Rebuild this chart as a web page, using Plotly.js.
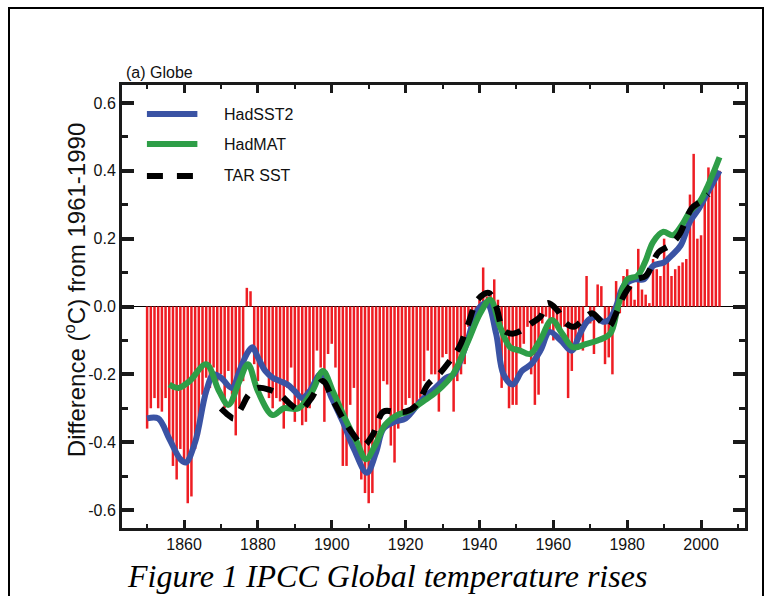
<!DOCTYPE html>
<html>
<head>
<meta charset="utf-8">
<script src="https://cdn.plot.ly/plotly-3.0.1.min.js"></script>
<style>
  html, body { margin: 0; padding: 0; background: #fff; }
  #wrap { position: relative; width: 764px; height: 596px; overflow: hidden; }
  #chart { position: absolute; left: 0; top: 0; width: 764px; height: 596px; }
  #frame { position: absolute; left: 8px; top: 7px; width: 752px; height: 620px;
           border-left: 2px solid #000; border-top: 2px solid #000; border-right: 2px solid #000;
           pointer-events: none; }
</style>
</head>
<body>
<div id="wrap">
  <div id="chart"></div>
  <div id="frame"></div>
</div>
<script>
// ---- Annual anomalies (bars), 1850-2005 ----
const years = [];
for (let y = 1850; y <= 2005; y++) years.push(y);
const annual = [
  -0.36,-0.30,-0.27,-0.30,-0.31,-0.27,-0.40,-0.47,-0.51,-0.42, // 1850s
  -0.46,-0.58,-0.56,-0.42,-0.38,-0.26,-0.21,-0.24,-0.18,-0.22, // 1860s
  -0.20,-0.30,-0.19,-0.26,-0.38,-0.30,-0.22,0.055,0.045,-0.17, // 1870s
  -0.22,-0.16,-0.19,-0.27,-0.30,-0.27,-0.28,-0.36,-0.24,-0.18, // 1880s
  -0.34,-0.30,-0.35,-0.34,-0.30,-0.27,-0.13,-0.18,-0.34,-0.14, // 1890s
  -0.11,-0.18,-0.33,-0.47,-0.47,-0.29,-0.24,-0.45,-0.51,-0.55, // 1900s
  -0.58,-0.55,-0.44,-0.41,-0.22,-0.23,-0.41,-0.46,-0.36,-0.31, // 1910s
  -0.29,-0.27,-0.30,-0.29,-0.27,-0.22,-0.13,-0.20,-0.20,-0.31, // 1920s
  -0.15,-0.14,-0.17,-0.31,-0.22,-0.20,-0.17,-0.06,-0.06,-0.04, // 1930s
  0.02,0.115,0.03,0.04,0.08,0.02,-0.24,-0.20,-0.30,-0.29,      // 1940s
  -0.29,-0.13,-0.11,-0.06,-0.20,-0.29,-0.26,-0.05,-0.03,-0.08, // 1950s
  -0.10,-0.05,-0.07,-0.06,-0.27,-0.19,-0.12,-0.10,-0.13,0.09,  // 1960s
  -0.05,-0.14,0.065,0.06,-0.17,-0.15,-0.20,0.075,-0.02,0.09,   // 1970s
  0.11,0.06,0.02,0.17,0.05,0.035,0.01,0.14,0.11,0.09,          // 1980s
  0.20,0.15,0.09,0.11,0.12,0.13,0.14,0.33,0.45,0.20,           // 1990s
  0.21,0.32,0.41,0.40,0.41,0.40                                // 2000s
];

// ---- Smoothed series ----
const sstYears = [1850,1853,1856,1859,1860.5,1863,1866,1868,1870,1873,1875,1877,1878.5,1880,1882,1884,1886,1888,1890,1892,1894,1897,1900,1903,1906,1909.5,1912,1914,1917,1920,1924,1928,1931,1933,1936.5,1939.5,1942,1944.5,1946.5,1949,1951.5,1954,1956.5,1959,1962,1965,1967,1969.5,1971.5,1973.5,1975,1977,1979,1982,1984.5,1987,1990,1992,1994.5,1997,1999.5,2002,2005];
const sstVals  = [-0.33,-0.33,-0.39,-0.45,-0.46,-0.40,-0.25,-0.20,-0.21,-0.24,-0.19,-0.14,-0.12,-0.15,-0.19,-0.21,-0.22,-0.23,-0.25,-0.27,-0.25,-0.20,-0.27,-0.34,-0.42,-0.49,-0.43,-0.36,-0.34,-0.33,-0.28,-0.24,-0.21,-0.20,-0.11,-0.01,0.01,-0.08,-0.20,-0.23,-0.19,-0.17,-0.13,-0.075,-0.10,-0.13,-0.085,-0.04,-0.03,-0.045,-0.04,0.0,0.06,0.08,0.08,0.12,0.13,0.15,0.18,0.25,0.29,0.34,0.40];

const matYears = [1856,1858.5,1861.5,1866,1869.5,1872,1875,1877.3,1880,1884,1887,1891,1894.7,1897.6,1900.3,1903.6,1906.8,1909.3,1911.7,1914.4,1917.7,1920.7,1924.7,1928.5,1932.8,1936.6,1940.2,1942.9,1945.6,1948.3,1951,1953.7,1956.4,1959.6,1962.4,1965.3,1969,1972,1975.4,1977.5,1980,1982.7,1984.8,1987,1989.7,1992.4,1994.8,1997,1999.7,2002,2005];
const matVals  = [-0.23,-0.24,-0.22,-0.17,-0.25,-0.29,-0.22,-0.17,-0.25,-0.32,-0.30,-0.30,-0.25,-0.19,-0.25,-0.33,-0.40,-0.45,-0.41,-0.35,-0.32,-0.31,-0.28,-0.25,-0.20,-0.11,-0.02,0.02,-0.06,-0.12,-0.13,-0.14,-0.10,-0.04,-0.08,-0.12,-0.11,-0.10,-0.08,0.0,0.08,0.09,0.13,0.19,0.22,0.21,0.24,0.28,0.31,0.36,0.44];

const tarYears = [1870,1872,1873.5,1875.5,1877.5,1880,1883,1886,1889,1891.5,1894.5,1897.5,1900.5,1903.5,1906,1908.5,1911,1914,1917,1920,1923,1926,1929,1932,1934.5,1937,1939.5,1942.5,1944.5,1946.5,1949,1951.5,1954,1956.5,1958.5,1961,1963.5,1965.5,1968,1970.5,1973,1975,1977,1979.5,1982.5,1985,1988.5,1991.5,1994,1997.5,2000,2002];
const tarVals  = [-0.30,-0.32,-0.33,-0.30,-0.26,-0.24,-0.245,-0.26,-0.29,-0.305,-0.27,-0.22,-0.28,-0.34,-0.38,-0.41,-0.38,-0.31,-0.31,-0.31,-0.29,-0.23,-0.20,-0.16,-0.12,-0.05,0.02,0.04,0.0,-0.07,-0.08,-0.07,-0.05,-0.03,0.01,-0.01,-0.05,-0.06,-0.04,-0.02,-0.045,-0.06,-0.02,0.04,0.08,0.09,0.16,0.18,0.21,0.29,0.31,0.33];

const seriesNames = ['HadSST2', 'HadMAT', 'TAR SST'];
const xTickVals = [1860,1880,1900,1920,1940,1960,1980,2000];
const xMinorVals = [1850,1870,1890,1910,1930,1950,1970,1990,2010];
const yTickVals = [-0.6,-0.4,-0.2,0.0,0.2,0.4,0.6];
const yTickText = ['-0.6','-0.4','-0.2','0.0','0.2','0.4','0.6'];
const yMinorVals = [-0.5,-0.3,-0.1,0.1,0.3,0.5];

const BLUE = '#3a53a4', GREEN = '#2e9e47', RED = '#ee1d23', BLACK = '#000000';
const FONT = 'Liberation Sans, Arial, sans-serif';

const traces = [
  { type: 'bar', x: years, y: annual, marker: { color: RED, line: { width: 0 } },
    hoverinfo: 'x+y', showlegend: false },
  { type: 'scatter', mode: 'lines', x: sstYears, y: sstVals, name: seriesNames[0],
    line: { color: BLUE, width: 6, shape: 'spline', smoothing: 1 }, showlegend: false },
  { type: 'scatter', mode: 'lines', x: matYears, y: matVals, name: seriesNames[1],
    line: { color: GREEN, width: 6, shape: 'spline', smoothing: 1 }, showlegend: false },
  { type: 'scatter', mode: 'lines', x: tarYears, y: tarVals, name: seriesNames[2],
    line: { color: BLACK, width: 6, shape: 'spline', smoothing: 1, dash: '16px,12px' }, showlegend: false }
];

// manual legend (sample lines + labels)
const legY = [0.9345, 0.8668, 0.7946];
const legColors = [BLUE, GREEN, BLACK];
const legDash = ['solid', 'solid', '16px,14px'];
const shapes = legY.map((yy, i) => ({
  type: 'line', xref: 'paper', yref: 'paper', x0: 0.040, x1: 0.121, y0: yy, y1: yy,
  line: { color: legColors[i], width: 6, dash: legDash[i] }
}));
const annotations = legY.map((yy, i) => ({
  xref: 'paper', yref: 'paper', x: 0.1605, y: yy, xanchor: 'left', yanchor: 'middle',
  text: seriesNames[i], showarrow: false, font: { family: FONT, size: 16, color: '#111' }
}));
annotations.push({
  xref: 'paper', yref: 'paper', x: 0.004, y: 1.029, xanchor: 'left', yanchor: 'middle',
  text: '(a) Globe', showarrow: false, font: { family: FONT, size: 16, color: '#111' }
});
annotations.push({
  xref: 'paper', yref: 'paper', x: -0.0754, y: 0.537, xanchor: 'center', yanchor: 'middle',
  textangle: -90, text: 'Difference (<sup>o</sup>C) from 1961-1990', showarrow: false,
  font: { family: FONT, size: 24, color: '#111' }
});
annotations.push({
  xref: 'paper', yref: 'paper', x: 0.005, y: -0.108, xanchor: 'left', yanchor: 'middle',
  text: '<i>Figure 1 IPCC Global temperature rises</i>', showarrow: false,
  font: { family: 'Liberation Serif, Times New Roman, serif', size: 32, color: '#000' }
});

const layout = {
  width: 764, height: 596,
  margin: { l: 122, r: 19, t: 85, b: 68, pad: 0 },
  paper_bgcolor: '#ffffff', plot_bgcolor: '#ffffff',
  showlegend: false, bargap: 0.32,
  font: { family: FONT, color: '#111' },
  xaxis: {
    range: [1843.2, 2011.9], tickmode: 'array', tickvals: xTickVals,
    ticks: 'inside', ticklen: 8, tickwidth: 3, tickcolor: '#1a1a1a',
    showline: true, linewidth: 3, linecolor: '#1a1a1a', mirror: 'allticks',
    showgrid: false, zeroline: false, tickfont: { family: FONT, size: 16, color: '#111' },
    minor: { tickmode: 'array', tickvals: xMinorVals, ticks: 'inside', ticklen: 4, tickwidth: 2, tickcolor: '#1a1a1a', showgrid: false }
  },
  yaxis: {
    range: [-0.653, 0.653], tickmode: 'array', tickvals: yTickVals, ticktext: yTickText,
    ticks: 'inside', ticklen: 12, tickwidth: 4, tickcolor: '#1a1a1a',
    showline: true, linewidth: 3, linecolor: '#1a1a1a', mirror: 'allticks',
    showgrid: false, zeroline: true, zerolinecolor: '#000', zerolinewidth: 1.5,
    tickfont: { family: FONT, size: 16, color: '#111' },
    minor: { tickmode: 'array', tickvals: yMinorVals, ticks: 'inside', ticklen: 6, tickwidth: 3, tickcolor: '#1a1a1a', showgrid: false }
  },
  shapes: shapes,
  annotations: annotations
};

Plotly.newPlot('chart', traces, layout, { staticPlot: true, displayModeBar: false });
</script>
</body>
</html>
